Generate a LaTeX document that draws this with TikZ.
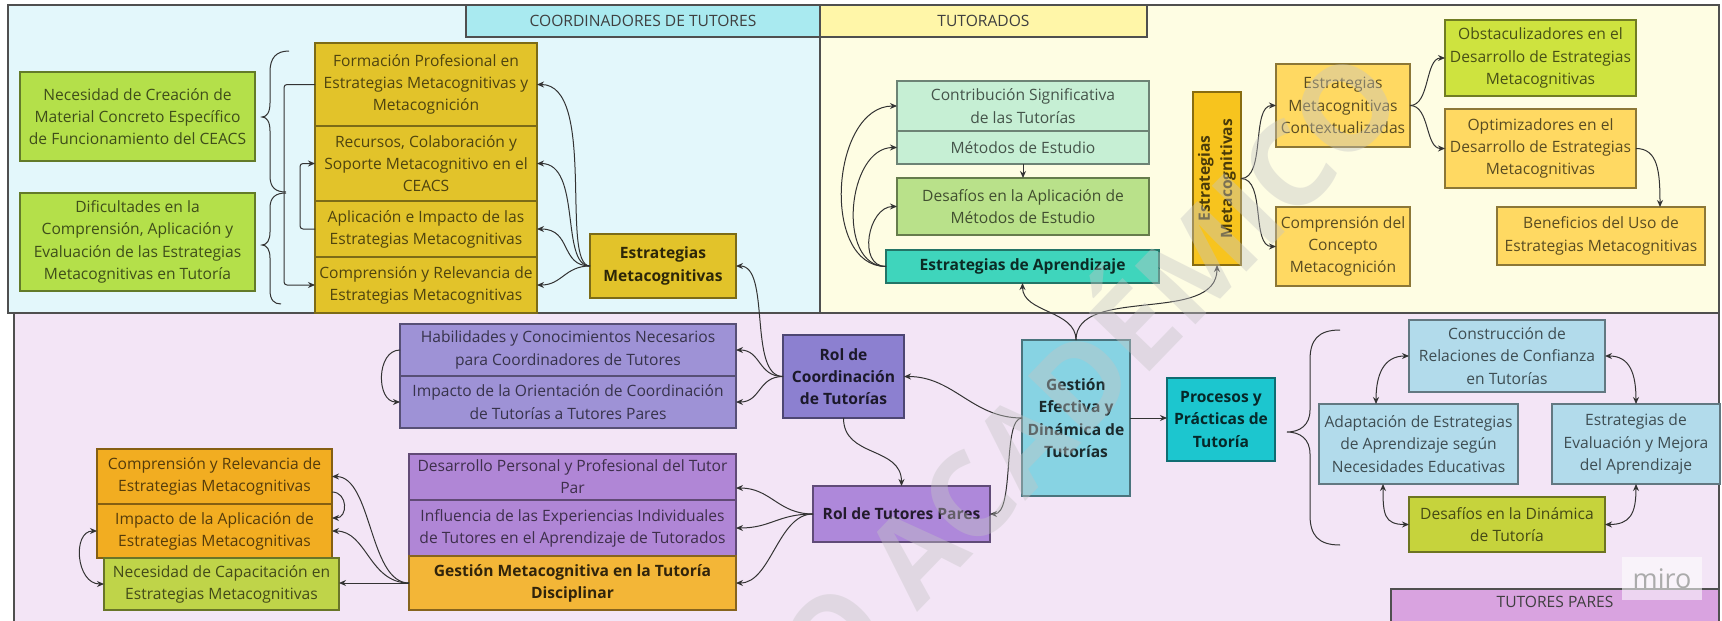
\documentclass[tikz,border=0pt]{standalone}
\usepackage{fontspec}
\setmainfont{Open Sans}
\usetikzlibrary{arrows.meta,calc}
\definecolor{cBgC}{HTML}{E3F7FB}
\definecolor{cBgY}{HTML}{FEFDE3}
\definecolor{cBgP}{HTML}{F3E5F6}
\definecolor{cHdrC}{HTML}{A9EAF0}
\definecolor{cHdrY}{HTML}{FFF6A8}
\definecolor{cHdrP}{HTML}{D9A3E0}
\definecolor{cFrame}{HTML}{4F4F4F}
\definecolor{cHdrT}{HTML}{3F3F3F}
\definecolor{cLine}{HTML}{333333}
\definecolor{cLime}{HTML}{B4E04A}
\definecolor{cGold}{HTML}{E2C32A}
\definecolor{cMint}{HTML}{C6EFD4}
\definecolor{cLgreen}{HTML}{B9E18A}
\definecolor{cTeal}{HTML}{3FD5BC}
\definecolor{cAmber}{HTML}{F7C41E}
\definecolor{cPaleY}{HTML}{FFD962}
\definecolor{cYgreen}{HTML}{CEE33F}
\definecolor{cLav}{HTML}{9E92D6}
\definecolor{cLavD}{HTML}{8C80D0}
\definecolor{cSky}{HTML}{87D3E3}
\definecolor{cCyan}{HTML}{1CC6CF}
\definecolor{cLblue}{HTML}{B2DBEB}
\definecolor{cOlive}{HTML}{C6D33C}
\definecolor{cPurp}{HTML}{B086D6}
\definecolor{cPurpB}{HTML}{AE88DA}
\definecolor{cOrange}{HTML}{F3B637}
\definecolor{cOrangeB}{HTML}{F2AD21}
\definecolor{cYolive}{HTML}{BFD449}
\definecolor{cWm}{HTML}{C4C4C4}
\definecolor{cMiro}{HTML}{ABABAB}
\newcommand\nf{\fontsize{15.6pt}{22.2pt}\selectfont}
\newcommand\wmf{\fontsize{118pt}{118pt}\selectfont\bfseries}
\newcommand\mkbox[7]{%
 \pgfmathsetmacro\mbw{#5-#3}\pgfmathsetmacro\mbh{#6-#4}%
 \pgfmathsetmacro\mbx{(#3+#5)/2}\pgfmathsetmacro\mby{(#4+#6)/2}%
 \node[#2, minimum width=\mbw pt, minimum height=\mbh pt] (#1) at (\mbx,\mby) {#7};}
\tikzset{
 bx/.style={draw=#1!55!black, fill=#1, text=#1!35!black, line width=1.1pt, inner sep=0pt, outer sep=0pt, align=center, font=\nf},
 bxb/.style={bx=#1, text=#1!20!black, font=\nf\bfseries},
 hdr/.style={draw=cFrame, line width=1.4pt, fill=#1, text=cHdrT, inner sep=0pt, font=\nf},
 region/.style={draw=cFrame, line width=1.4pt},
 cn/.style={draw=cLine, line width=1pt, -{Stealth[length=7pt,width=6pt]}},
 cnb/.style={draw=cLine, line width=1pt, {Stealth[length=7pt,width=6pt]}-{Stealth[length=7pt,width=6pt]}},
 brc/.style={draw=cLine, line width=1pt},
}
\begin{document}
\begin{tikzpicture}[x=1pt,y=-1pt]
\useasboundingbox (0,0) rectangle (1722,621);
% regions
\draw[region, fill=cBgC] (8,5) rectangle (820,313);
\draw[region, fill=cBgY] (820,5) rectangle (1719,313);
\draw[region, fill=cBgP] (14,313) rectangle (1719,640);
\mkbox{HC}{hdr=cHdrC}{466}{5}{820}{37}{COORDINADORES DE TUTORES}
\mkbox{HT}{hdr=cHdrY}{820}{5}{1147}{37}{TUTORADOS}
\draw[region, fill=cHdrP] (1391,589) rectangle (1719,640);
\node[text=cHdrT, font=\nf] (HP) at (1555,602) {TUTORES PARES};
% Coordinadores
\mkbox{N1}{bx=cLime}{20}{72}{255}{161}{Necesidad de Creación de\\Material Concreto Específico\\de Funcionamiento del CEACS}
\mkbox{N2}{bx=cLime}{20}{193}{255}{291}{Dificultades en la\\Comprensión, Aplicación y\\Evaluación de las Estrategias\\Metacognitivas en Tutoría}
\mkbox{F1}{bx=cGold}{315}{43}{537}{126}{Formación Profesional en\\Estrategias Metacognitivas y\\Metacognición}
\mkbox{F2}{bx=cGold}{315}{126}{537}{201}{Recursos, Colaboración y\\Soporte Metacognitivo en el\\CEACS}
\mkbox{F3}{bx=cGold}{315}{201}{537}{257}{Aplicación e Impacto de las\\Estrategias Metacognitivas}
\mkbox{F4}{bx=cGold}{315}{257}{537}{313}{Comprensión y Relevancia de\\Estrategias Metacognitivas}
\mkbox{EM}{bxb=cGold}{590}{234}{736}{298}{Estrategias\\Metacognitivas}
% Tutorados
\mkbox{CS}{bx=cMint}{897}{81}{1149}{131}{Contribución Significativa\\de las Tutorías}
\mkbox{ME}{bx=cMint}{897}{131}{1149}{164}{Métodos de Estudio}
\mkbox{DA}{bx=cLgreen}{897}{178}{1149}{235}{Desafíos en la Aplicación de\\Métodos de Estudio}
\mkbox{EA}{bxb=cTeal}{886}{250}{1159}{283}{Estrategias de Aprendizaje}
\mkbox{EMV}{bx=cAmber}{1193}{92}{1241}{265}{}
\node[rotate=90, align=center, text=cAmber!30!black, font=\nf\bfseries] (EMVt) at (EMV.center) {Estrategias\\Metacognitivas};
\mkbox{CTX}{bx=cPaleY}{1276}{64}{1410}{147}{Estrategias\\Metacognitivas\\Contextualizadas}
\mkbox{CCM}{bx=cPaleY}{1276}{207}{1410}{286}{Comprensión del\\Concepto\\Metacognición}
\mkbox{OBS}{bx=cYgreen}{1445}{20}{1636}{96}{Obstaculizadores en el\\Desarrollo de Estrategias\\Metacognitivas}
\mkbox{OPT}{bx=cPaleY}{1445}{109}{1636}{188}{Optimizadores en el\\Desarrollo de Estrategias\\Metacognitivas}
\mkbox{BEN}{bx=cPaleY}{1497}{207}{1705}{265}{Beneficios del Uso de\\Estrategias Metacognitivas}
% Tutores pares
\mkbox{HAB}{bx=cLav}{400}{324}{736}{376}{Habilidades y Conocimientos Necesarios\\para Coordinadores de Tutores}
\mkbox{IMO}{bx=cLav}{400}{376}{736}{428}{Impacto de la Orientación de Coordinación\\de Tutorías a Tutores Pares}
\mkbox{RC}{bxb=cLavD}{783}{335}{904}{418}{Rol de\\Coordinación\\de Tutorías}
\mkbox{GE}{bxb=cSky}{1022}{340}{1130}{496}{Gestión\\Efectiva y\\Dinámica de\\Tutorías}
\mkbox{PP}{bxb=cCyan}{1167}{378}{1275}{461}{Procesos y\\Prácticas de\\Tutoría}
\mkbox{CON}{bx=cLblue}{1409}{320}{1605}{392}{Construcción de\\Relaciones de Confianza\\en Tutorías}
\mkbox{ADA}{bx=cLblue}{1319}{404}{1518}{484}{Adaptación de Estrategias\\de Aprendizaje según\\Necesidades Educativas}
\mkbox{EVA}{bx=cLblue}{1552}{404}{1720}{484}{Estrategias de\\Evaluación y Mejora\\del Aprendizaje}
\mkbox{DDT}{bx=cOlive}{1409}{497}{1605}{552}{Desafíos en la Dinámica\\de Tutoría}
\mkbox{DP}{bx=cPurp}{409}{454}{736}{500}{Desarrollo Personal y Profesional del Tutor\\Par}
\mkbox{IE}{bx=cPurp}{409}{500}{736}{556}{Influencia de las Experiencias Individuales\\de Tutores en el Aprendizaje de Tutorados}
\mkbox{GM}{bxb=cOrange}{409}{556}{736}{610}{Gestión Metacognitiva en la Tutoría\\Disciplinar}
\mkbox{RTP}{bxb=cPurpB}{813}{486}{990}{542}{Rol de Tutores Pares}
\mkbox{CR}{bx=cOrangeB}{97}{449}{332}{504}{Comprensión y Relevancia de\\Estrategias Metacognitivas}
\mkbox{IA}{bx=cOrangeB}{97}{504}{332}{558}{Impacto de la Aplicación de\\Estrategias Metacognitivas}
\mkbox{NC}{bx=cYolive}{104}{558}{339}{610}{Necesidad de Capacitación en\\Estrategias Metacognitivas}
% braces
\draw[brc] (289,51) .. controls (276,51) and (270,58) .. (270,72) -- (270,103) .. controls (270,112) and (267,117) .. (262,117) .. controls (267,117) and (270,122) .. (270,131) -- (270,176) .. controls (270,188) and (276,192) .. (286,192);
\draw[brc] (286,193) .. controls (276,193) and (270,197) .. (270,208) -- (270,232) .. controls (270,240) and (267,245) .. (262,245) .. controls (267,245) and (270,250) .. (270,258) -- (270,290) .. controls (270,300) and (274,304) .. (281,304);
\draw[brc] (1340,330) .. controls (1318,330) and (1310,340) .. (1310,360) -- (1310,410) .. controls (1310,425) and (1300,432) .. (1287,432) .. controls (1300,432) and (1310,439) .. (1310,454) -- (1310,515) .. controls (1310,535) and (1318,545) .. (1340,545);
% connectors: coordinadores
\draw[cn] (EM.west) .. controls +(-30,0) and +(60,0) .. (F1.east);
\draw[cn] (EM.west) .. controls +(-30,0) and +(45,0) .. (F2.east);
\draw[cn] (EM.west) .. controls +(-30,0) and +(35,0) .. (F3.east);
\draw[cn] (EM.west) .. controls +(-25,0) and +(25,0) .. (F4.east);
\draw[cn, rounded corners=3pt] (F1.west) -- ++(-31,0) |- (F4.west);
\draw[cn, rounded corners=3pt] (F3.west) -- ++(-15,0) |- (F2.west);
% tutores pares
\draw[cn] (RC.west) .. controls +(-35,0) and +(35,0) .. (EM.east);
\draw[cn] (RC.west) .. controls +(-25,0) and +(25,0) .. (HAB.east);
\draw[cn] (RC.west) .. controls +(-25,0) and +(25,0) .. (IMO.east);
\draw[cn] (HAB.west) .. controls +(-24,0) and +(-24,0) .. (IMO.west);
\draw[cn] (GE.west) .. controls +(-50,0) and +(50,0) .. (RC.east);
\draw[cn] (GE.west) .. controls +(-20,0) and +(25,0) .. (RTP.east);
\draw[cn] (RC.south) .. controls +(0,40) and +(0,-40) .. (RTP.north);
\draw[cn] (RTP.west) .. controls +(-35,0) and +(35,0) .. ([yshift=-11pt]DP.east);
\draw[cn] (RTP.west) .. controls +(-35,0) and +(35,0) .. (IE.east);
\draw[cn] (RTP.west) .. controls +(-35,0) and +(35,0) .. (GM.east);
\draw[cn] (GE.north) .. controls +(0,-30) and +(0,30) .. (EA.south);
\draw[cn] (GE.north) .. controls +(0,-55) and +(0,60) .. (EMV.south);
\draw[cn] (GE.east) -- (GE.east -| PP.west);
% tutorados
\draw[cn] (EA.west) .. controls +(-66,0) and +(-66,0) .. (CS.west);
\draw[cn] (EA.west) .. controls +(-50,0) and +(-50,0) .. (ME.west);
\draw[cn] (EA.west) .. controls +(-29,0) and +(-29,0) .. (DA.west);
\draw[cn] (ME.south) -- (DA.north);
\draw[cn] (EMV.east) .. controls +(25,0) and +(-25,0) .. (CTX.west);
\draw[cn] (EMV.east) .. controls +(25,0) and +(-25,0) .. (CCM.west);
\draw[cn] (CTX.east) .. controls +(20,0) and +(-20,0) .. (OBS.west);
\draw[cn] (CTX.east) .. controls +(20,0) and +(-20,0) .. (OPT.west);
\draw[cn] (OPT.east) .. controls +(22,0) and +(0,-35) .. ([xshift=59pt]BEN.north);
% procesos
\draw[cnb] (CON.west) .. controls +(-25,0) and +(0,-30) .. ([xshift=-42.5pt]ADA.north);
\draw[cnb] (CON.east) .. controls +(25,0) and +(0,-30) .. (EVA.north);
\draw[cnb] ([xshift=-35.5pt]ADA.south) .. controls +(0,30) and +(-25,0) .. (DDT.west);
\draw[cnb] (EVA.south) .. controls +(0,30) and +(25,0) .. (DDT.east);
% bottom-left
\draw[cn] (GM.west) -- (GM.west -| NC.east);
\draw[cn] (GM.west) .. controls +(-40,0) and +(35,0) .. (IA.east);
\draw[cn] (GM.west) .. controls +(-40,0) and +(40,0) .. (CR.east);
\draw[cn] ([yshift=-15.5pt]CR.east) .. controls +(16,0) and +(16,0) .. ([yshift=13pt]IA.east);
\draw[cnb] (IA.west) .. controls +(-25,0) and +(-28,0) .. (NC.west);
% miro badge and watermark
\node[fill=white, fill opacity=0.55, text opacity=1, text=cMiro, inner sep=0pt, minimum width=80pt, minimum height=43pt, font=\fontsize{27pt}{27pt}\selectfont] (miro) at (1662,578.5) {miro};
\node[text=cWm, text opacity=0.4, rotate=46, anchor=base, inner sep=0pt, font=\wmf] (wm) at (1120,403) {O ACADÉMICO};
\end{tikzpicture}
\end{document}
